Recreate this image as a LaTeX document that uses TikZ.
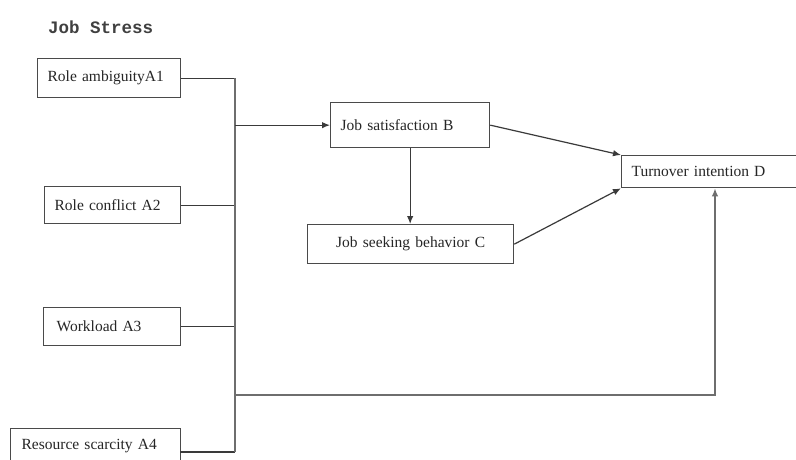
\documentclass[tikz,border=0pt]{standalone}
\usepackage{fontspec}
\setmainfont{Liberation Serif}
\newfontfamily\titlefont{Liberation Mono}
\usetikzlibrary{arrows.meta}
\definecolor{boxcol}{HTML}{4A4A4A}
\definecolor{linecol}{HTML}{3A3A3A}
\definecolor{buscol}{HTML}{6E6E6E}
\tikzset{
  box/.style={draw=boxcol, line width=1.3pt, anchor=north west, inner xsep=10pt, inner ysep=0pt,
    align=left, font=\fontsize{15.5}{17}\selectfont, text=black!85},
  conn/.style={draw=linecol, line width=1.2pt},
  bus/.style={draw=buscol, line width=1.6pt},
  arr/.style={-{Latex[length=8pt,width=6.5pt]}}
}
\begin{document}
\begin{tikzpicture}[x=1pt,y=-1pt]
\useasboundingbox (0,0) rectangle (796,460);
\fill[white] (0,0) rectangle (796,460);
\clip (0,0) rectangle (796,460);

\node[anchor=west, font=\titlefont\bfseries\fontsize{17.5}{19}\selectfont, text=black!75, inner sep=0pt] (title) at (48,27) {Job Stress};

\node[box, text width=123pt, minimum height=39pt] (A1) at (37,58) {Role ambiguityA1};
\node[box, text width=116pt, minimum height=37pt] (A2) at (44,186) {Role conflict A2};
\node[box, minimum height=38pt, inner xsep=13pt, text width=111pt] (A3) at (43,307) {Workload A3};
\node[box, text width=148pt, minimum height=34pt, inner xsep=11pt] (A4) at (10,428) {Resource scarcity A4};
\node[box, text width=139pt, minimum height=45pt] (B) at (330,102) {Job satisfaction B};
\node[box, text width=186pt, minimum height=39pt, align=center] (C) at (307,224) {Job seeking behavior C};
\node[box, text width=165pt, minimum height=32pt] (D) at (621,155) {Turnover intention D};

\coordinate (bt) at (235,0);
\coordinate (bl) at (235,395);
\coordinate (br) at (715,395);
\coordinate (a4c) at (180,452);

% bus and inputs
\draw[conn] (A1.east) -- (A1.east -| bt);
\draw[conn] (A2.east) -- (A2.east -| bt);
\draw[conn] (A3.east) -- (A3.east -| bt);
\draw[conn] (a4c) -- (a4c -| bt);
\draw[bus] (A1.east -| bt) -- (a4c -| bt);

% to B
\draw[conn, arr] (bt |- B.west) -- (B.west);
% bottom line to D
\draw[bus, arr] (bl) -- (br) -- (br |- D.south);

% B -> C, B -> D, C -> D
\draw[conn, arr] (B.south) -- (C.north -| B.south);
\draw[conn, arr] (B.east) -- (D.north west);
\draw[conn, arr] (C.east) -- (D.south west);
\end{tikzpicture}
\end{document}
